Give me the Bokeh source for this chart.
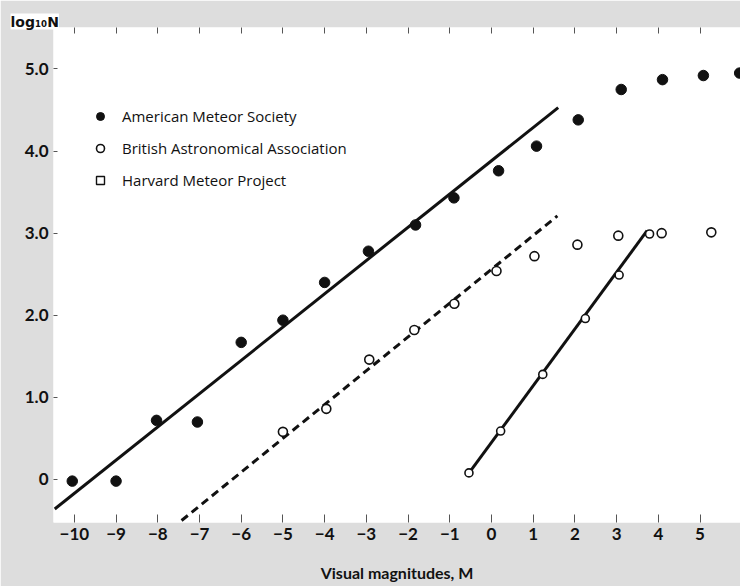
from bokeh.plotting import figure
from bokeh.models import (Range1d, LinearAxis, FixedTicker, Title, Legend, LegendItem)
from bokeh.embed import file_html
from bokeh.resources import INLINE

# ---- data ----
ams_m = [-10.05, -9.0, -8.03, -7.05, -6.0, -5.0, -4.0, -2.95, -1.82, -0.9, 0.17, 1.08, 2.08, 3.11, 4.1, 5.08, 5.95]
ams_logn = [-0.02, -0.02, 0.72, 0.70, 1.67, 1.94, 2.40, 2.78, 3.10, 3.43, 3.76, 4.06, 4.38, 4.75, 4.87, 4.92, 4.95]

baa_m = [-5.0, -3.96, -2.93, -1.85, -0.89, 0.12, 1.03, 2.06, 3.04, 4.08, 5.27]
baa_logn = [0.58, 0.86, 1.46, 1.82, 2.14, 2.54, 2.72, 2.86, 2.97, 3.00, 3.01]

hmp_m = [-0.54, 0.22, 1.23, 2.25, 3.06, 3.79]
hmp_logn = [0.08, 0.59, 1.28, 1.96, 2.49, 2.99]

ams_fit_m = [-10.47, 1.60]
ams_fit_logn = [-0.36, 4.53]
baa_fit_m = [-7.43, 1.58]
baa_fit_logn = [-0.50, 3.21]
hmp_fit_m = [-0.55, 3.73]
hmp_fit_logn = [0.07, 3.03]

x_ticks = [-10, -9, -8, -7, -6, -5, -4, -3, -2, -1, 0, 1, 2, 3, 4, 5]
x_tick_labels = ["\u221210", "\u22129", "\u22128", "\u22127", "\u22126", "\u22125", "\u22124",
                 "\u22123", "\u22122", "\u22121", "0", "1", "2", "3", "4", "5"]
y_ticks = [0, 1, 2, 3, 4, 5]
y_tick_labels = ["0", "1.0", "2.0", "3.0", "4.0", "5.0"]

series_names = ["American Meteor Society", "British Astronomical Association", "Harvard Meteor Project"]
x_title = "Visual magnitudes, M"
y_title = "log\u2081\u2080N"

X_MIN, X_MAX = -10.50, 5.97
Y_MIN, Y_MAX = -0.524, 5.505

FONT = "Lato"
INK = "#111111"
BAND = "#dddddd"

p = figure(width=740, height=586, output_backend="svg", toolbar_location=None,
           x_range=Range1d(X_MIN, X_MAX), y_range=Range1d(Y_MIN, Y_MAX),
           min_border_left=53, min_border_right=0, min_border_top=27, min_border_bottom=64,
           x_axis_location=None, y_axis_location=None)
p.background_fill_color = "white"
p.border_fill_color = BAND
p.outline_line_color = None
p.grid.visible = False

def style_axis(ax, tick_in):
    ax.axis_line_color = None
    ax.major_tick_in = tick_in
    ax.major_tick_out = 0
    ax.minor_tick_line_color = None
    ax.major_tick_line_color = "#555555"
    ax.major_tick_line_width = 1
    ax.major_label_text_font = FONT
    ax.major_label_text_font_style = "bold"
    ax.major_label_text_color = INK
    ax.major_label_text_font_size = "17px"

xb = LinearAxis(ticker=FixedTicker(ticks=x_ticks),
                major_label_overrides={t: l for t, l in zip(x_ticks, x_tick_labels)})
style_axis(xb, 8)
xb.major_label_standoff = 5
xb.axis_label = x_title
xb.axis_label_text_font = FONT
xb.axis_label_text_font_style = "bold"
xb.axis_label_text_font_size = "16px"
xb.axis_label_text_color = INK
xb.axis_label_standoff = 20
p.add_layout(xb, "below")

xt = LinearAxis(ticker=FixedTicker(ticks=x_ticks),
                major_label_overrides={t: "" for t in x_ticks})
style_axis(xt, 6)
xt.major_label_standoff = 0
p.add_layout(xt, "above")

yl = LinearAxis(ticker=FixedTicker(ticks=y_ticks),
                major_label_overrides={t: l for t, l in zip(y_ticks, y_tick_labels)})
style_axis(yl, 4)
yl.major_label_standoff = 5
p.add_layout(yl, "left")

# y-axis title placed at the top-left corner, as in the original
ytitle = Title(text=y_title, align="left", offset=-43, standoff=-4,
               text_font="DejaVu Sans", text_font_style="bold", text_font_size="14px",
               text_color=INK, background_fill_color="white")
p.add_layout(ytitle, "above")

# fitted lines
p.line(ams_fit_m, ams_fit_logn, line_color=INK, line_width=3)
p.line(baa_fit_m, baa_fit_logn, line_color=INK, line_width=3, line_dash="8 5")
p.line(hmp_fit_m, hmp_fit_logn, line_color=INK, line_width=3)

# data points
r_ams = p.scatter(ams_m, ams_logn, marker="circle", size=10.5, fill_color=INK, line_color=INK)
r_baa = p.scatter(baa_m, baa_logn, marker="circle", size=9, fill_color="white",
                  line_color=INK, line_width=1.6)
p.scatter(hmp_m, hmp_logn, marker="circle", size=8, fill_color="white",
          line_color=INK, line_width=1.6)
# legend key for the Harvard series (square symbol, as in the original key)
r_hmp_key = p.scatter(hmp_m, hmp_logn, marker="square", size=7, fill_color="white",
                      line_color=INK, line_width=1.4, visible=False)

legend = Legend(items=[LegendItem(label=series_names[0], renderers=[r_ams]),
                       LegendItem(label=series_names[1], renderers=[r_baa]),
                       LegendItem(label=series_names[2], renderers=[r_hmp_key])],
                location=(37, 332), margin=0, padding=0, spacing=12,
                glyph_width=20, glyph_height=20, label_height=20, label_standoff=12,
                background_fill_alpha=0, border_line_color=None,
                inactive_fill_alpha=0,
                label_text_font="Open Sans", label_text_font_size="15px", label_text_color=INK)
p.add_layout(legend, "center")

open("out.html", "w").write(file_html(p, INLINE))
